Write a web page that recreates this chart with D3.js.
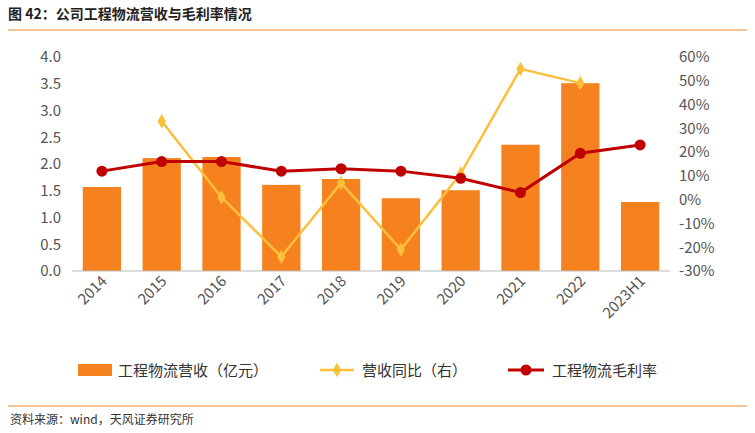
<!DOCTYPE html><html><head><meta charset="utf-8"><script src="https://cdn.jsdelivr.net/npm/d3@7"></script>
<style>body{margin:0;background:#fff}text{font-family:"Noto Sans CJK SC","Liberation Sans",sans-serif}</style></head><body>
<svg id="c" width="755" height="433"></svg>
<script>
const categories=["2014","2015","2016","2017","2018","2019","2020","2021","2022","2023H1"];
const revenue=[1.57,2.11,2.13,1.61,1.72,1.36,1.51,2.36,3.51,1.29];
const yoy=[null,33,1,-24,7,-21,11,55,49,null];
const margin=[12,16,16,12,13,12,9,3,19.5,23];
const leftTicks=[0,0.5,1,1.5,2,2.5,3,3.5,4];
const rightTicks=[-30,-20,-10,0,10,20,30,40,50,60];
const svg=d3.select("#c");
svg.append("text").attr("x",8).attr("y",19).attr("font-size",14).attr("font-weight","bold").attr("fill","#222").text("图 42：公司工程物流营收与毛利率情况");
svg.append("line").attr("x1",8).attr("x2",747).attr("y1",30).attr("y2",30).attr("stroke","#E8892B").attr("stroke-width",1);
svg.append("line").attr("x1",8).attr("x2",747).attr("y1",406).attr("y2",406).attr("stroke","#E8892B").attr("stroke-width",1);
svg.append("text").attr("x",10).attr("y",424).attr("font-size",12).attr("fill","#333").text("资料来源：wind，天风证券研究所");
const x=d3.scaleBand().domain(categories).range([72,670]).paddingInner(0.36).paddingOuter(0.18);
const yL=d3.scaleLinear().domain([0,4]).range([271,57]);
const yR=d3.scaleLinear().domain([-30,60]).range([271,57]);
const g=svg.append("g");
g.selectAll("rect").data(revenue).join("rect").attr("x",(d,i)=>x(categories[i])).attr("width",x.bandwidth()).attr("y",d=>yL(d)).attr("height",d=>yL(0)-yL(d)).attr("fill","#F5821F");
g.append("line").attr("x1",72).attr("x2",670).attr("y1",271).attr("y2",271).attr("stroke","#bbb");
const al=svg.append("g").attr("transform","translate(66,0)").call(d3.axisLeft(yL).tickValues(leftTicks).tickFormat(d3.format(".1f")).tickSize(0));
const ar=svg.append("g").attr("transform","translate(676,0)").call(d3.axisRight(yR).tickValues(rightTicks).tickFormat(d=>d+"%").tickSize(0));
[al,ar].forEach(a=>{a.select(".domain").remove();a.selectAll("text").attr("font-size",15).attr("fill","#555").attr("font-family","Liberation Sans, sans-serif");});
al.selectAll("text").attr("dx",-2);
const cx=c=>x(c)+x.bandwidth()/2;
const yd=categories.map((c,i)=>[c,yoy[i]]).filter(d=>d[1]!==null);
svg.append("path").datum(yd).attr("d",d3.line().x(d=>cx(d[0])).y(d=>yR(d[1]))).attr("fill","none").attr("stroke","#FBBF3A").attr("stroke-width",2.5);
svg.selectAll(".dm").data(yd).join("path").attr("d",d3.symbol(d3.symbolDiamond,60)).attr("transform",d=>`translate(${cx(d[0])},${yR(d[1])})`).attr("fill","#FBBF3A");
const md=categories.map((c,i)=>[c,margin[i]]);
svg.append("path").datum(md).attr("d",d3.line().x(d=>cx(d[0])).y(d=>yR(d[1]))).attr("fill","none").attr("stroke","#C00000").attr("stroke-width",3);
svg.selectAll(".mc").data(md).join("circle").attr("cx",d=>cx(d[0])).attr("cy",d=>yR(d[1])).attr("r",5.5).attr("fill","#C00000");
svg.selectAll(".xl").data(categories).join("text").attr("font-size",15).attr("fill","#555").attr("font-family","Liberation Sans, sans-serif").attr("text-anchor","end")
 .attr("transform",c=>`translate(${cx(c)+6},${282}) rotate(-45)`).text(c=>c);
const lg=svg.append("g").attr("font-size",15).attr("fill","#333");
lg.append("rect").attr("x",78).attr("y",364).attr("width",34).attr("height",12).attr("fill","#F5821F");
lg.append("text").attr("x",118).attr("y",376).text("工程物流营收（亿元）");
lg.append("line").attr("x1",320).attr("x2",354).attr("y1",370).attr("y2",370).attr("stroke","#FBBF3A").attr("stroke-width",2.5);
lg.append("path").attr("d",d3.symbol(d3.symbolDiamond,60)).attr("transform","translate(337,370)").attr("fill","#FBBF3A");
lg.append("text").attr("x",362).attr("y",376).text("营收同比（右）");
lg.append("line").attr("x1",508).attr("x2",544).attr("y1",370).attr("y2",370).attr("stroke","#C00000").attr("stroke-width",3);
lg.append("circle").attr("cx",526).attr("cy",370).attr("r",5.5).attr("fill","#C00000");
lg.append("text").attr("x",552).attr("y",376).text("工程物流毛利率");
</script></body></html>
